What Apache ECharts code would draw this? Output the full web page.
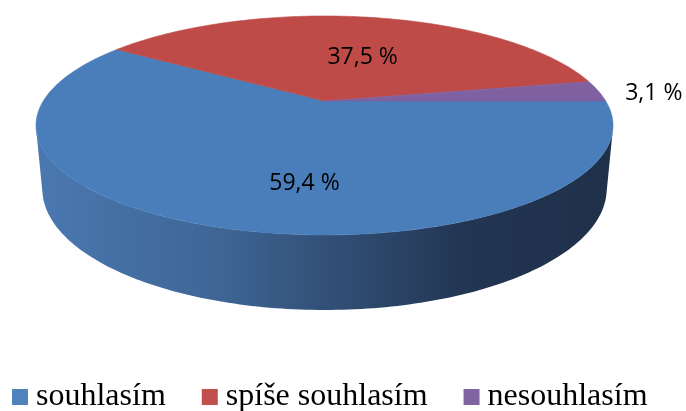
<!DOCTYPE html>
<html>
<head>
<meta charset="utf-8">
<script src="https://cdn.jsdelivr.net/npm/echarts@6/dist/echarts.min.js"></script>
<style>
  html, body { margin: 0; padding: 0; background: #fff; }
  #chart { width: 686px; height: 411px; }
</style>
</head>
<body>
<div id="chart"></div>
<script>
var categories = ['souhlasím', 'spíše souhlasím', 'nesouhlasím']
var values = [59.4, 37.5, 3.1]

var topColors = ['#4a7ebb', '#be4b48', '#7f60a0']
var legendColors = ['#4f81bd', '#c0504d', '#8064a2']
var labelShift = [[31, 20], [11, 7], [2, 4]]  // nudge labels like Excel does

// fake 3D view of a disc of radius 1
var view = { cx: 324.5, cy: 101, f: 1168.4, D: 4.155, tilt: Math.asin(0.3699), thick: 0.24 }

function proj(u, w, h) {
    var sa = Math.sin(view.tilt), ca = Math.cos(view.tilt)
    var s = w * sa + h * ca
    var z = view.D - w * ca + h * sa
    return [view.cx + view.f * u / z, view.cy + view.f * s / z]
}
function rim(deg, r, h) {
    var a = deg * Math.PI / 180
    return proj(r * Math.cos(a), r * Math.sin(a), h)
}
function arc(a0, a1, h) {
    var pts = []
    var n = Math.max(2, Math.ceil(Math.abs(a1 - a0)))
    for (var k = 0; k <= n; k++) pts.push(rim(a0 + (a1 - a0) * k / n, 1, h))
    return pts
}

var total = values.reduce(function (s, v) { return s + v }, 0)
var starts = []
var acc = 0
for (var i = 0; i < values.length; i++) {
    starts.push(acc / total * 360)
    acc += values[i]
}
// side of the cylinder is only seen where it faces the camera
var visA = Math.asin(1 / (view.D * Math.cos(view.tilt))) * 180 / Math.PI
var visB = 180 - visA

function renderSlice(params, api) {
    var i = params.seriesIndex
    var a0 = starts[i]
    var a1 = a0 + api.value(0) / total * 360
    var children = []

    var s0 = Math.max(a0, visA), s1 = Math.min(a1, visB)
    if (s1 > s0) {
        var side = arc(s0, s1, 0).concat(arc(s0, s1, view.thick).reverse())
        children.push({
            type: 'polygon',
            z2: 1,
            shape: { points: side },
            style: {
                fill: {
                    type: 'linear', x: 0, y: 0, x2: 1, y2: 0,
                    colorStops: [
                        { offset: 0, color: '#4a78b0' },
                        { offset: 0.3, color: '#3f6797' },
                        { offset: 0.55, color: '#2f4b70' },
                        { offset: 0.75, color: '#223552' },
                        { offset: 1, color: '#1f3049' }
                    ]
                }
            }
        })
    }

    var top = [proj(0, 0, 0)].concat(arc(a0, a1, 0))
    children.push({
        type: 'polygon',
        z2: 10,
        shape: { points: top },
        style: { fill: topColors[i], stroke: topColors[i], lineWidth: 0.6 }
    })

    var mid = (a0 + a1) / 2
    var inside = (a1 - a0) > 18
    var p = rim(mid, inside ? 0.55 : 1.2, 0)
    children.push({
        type: 'text',
        z2: 20,
        x: p[0] + labelShift[i][0],
        y: p[1] + labelShift[i][1],
        style: {
            text: api.value(0).toFixed(1).replace('.', ',') + ' %',
            fill: '#000',
            font: '23px "Open Sans"',
            align: 'center',
            verticalAlign: 'middle'
        }
    })
    return { type: 'group', children: children }
}

var chart = echarts.init(document.getElementById('chart'))
var series = []
for (var j = 0; j < categories.length; j++) {
    series.push({
        type: 'custom',
        name: categories[j],
        coordinateSystem: 'none',
        itemStyle: { color: legendColors[j] },
        data: [values[j]],
        renderItem: renderSlice
    })
}
chart.setOption({
    animation: false,
    legend: {
        left: 12,
        top: 381,
        padding: 0,
        icon: 'rect',
        itemWidth: 16,
        itemHeight: 16,
        itemGap: 36,
        selectedMode: false,
        textStyle: {
            fontFamily: 'Liberation Serif', fontSize: 32, color: '#000',
            lineHeight: 32, padding: [0, 0, 0, 3]
        },
        data: categories
    },
    series: series
})
</script>
</body>
</html>
